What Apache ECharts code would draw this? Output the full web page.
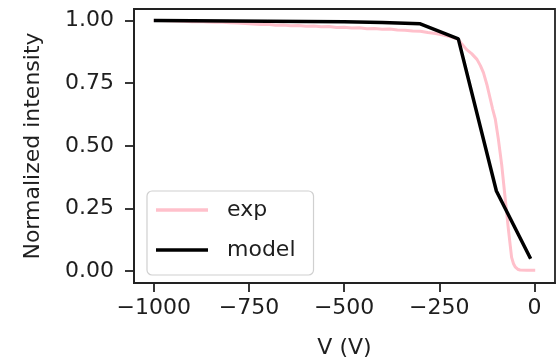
<!DOCTYPE html>
<html><head><meta charset="utf-8">
<script src="https://cdn.jsdelivr.net/npm/echarts@6/dist/echarts.min.js"></script>
<style>html,body{margin:0;padding:0;background:#fff}#c{width:559px;height:364px}</style>
</head><body><div id="c"></div>
<script>
const expV = [-1000,-980,-960,-940,-920,-900,-880,-860,-840,-820,-800,-780,-760,-740,-720,-700,-680,-660,-640,-620,-600,-580,-560,-540,-520,-500,-480,-460,-440,-420,-400,-380,-360,-340,-320,-300,-280,-260,-240,-220,-200,-190,-178,-165,-151,-142,-134,-125,-116,-110,-103,-95,-86,-77,-68,-60,-55,-50,-44,-38,-20,0,2];
const expI = [1.000,1.000,0.999,0.998,0.997,0.995,0.996,0.994,0.993,0.993,0.991,0.990,0.988,0.986,0.984,0.985,0.981,0.982,0.979,0.980,0.977,0.978,0.975,0.976,0.972,0.973,0.970,0.971,0.967,0.968,0.965,0.966,0.962,0.961,0.958,0.957,0.952,0.948,0.942,0.935,0.925,0.905,0.884,0.868,0.845,0.820,0.792,0.745,0.687,0.648,0.608,0.529,0.424,0.292,0.161,0.055,0.030,0.016,0.008,0.005,0.004,0.004,0.004];
const modelV = [-1000,-900,-800,-700,-600,-500,-400,-300,-200,-100,-10];
const modelI = [1.000,0.999,0.998,0.997,0.996,0.995,0.992,0.987,0.927,0.320,0.050];
const xTicks = [-1000,-750,-500,-250,0];
const yTicks = [0,0.25,0.5,0.75,1.0];

const font = 'DejaVu Sans';
const txt = '#1e1e1e';
const chart = echarts.init(document.getElementById('c'), null, {renderer:'canvas'});
chart.setOption({
  animation:false,
  backgroundColor:'#fff',
  grid:{left:134, top:9, right:4, bottom:78, show:true, borderColor:'#222', borderWidth:1.8, backgroundColor:'transparent'},
  legend:{
    left:147, top:191, orient:'vertical',
    data:[{name:'exp', icon:'rect', itemStyle:{color:'#ffc0cb'}},{name:'model', icon:'rect', itemStyle:{color:'#000'}}],
    itemWidth:52, itemHeight:3.5, itemGap:18,
    textStyle:{fontFamily:font, fontSize:22, color:txt, padding:[0,0,0,14]},
    backgroundColor:'rgba(255,255,255,0.8)', borderColor:'#d0d0d0', borderWidth:1.2, borderRadius:5,
    padding:[8,18,14,9]
  },
  xAxis:{
    type:'value', min:-1052, max:54,
    name:'V (V)', nameLocation:'middle', nameGap:54,
    nameTextStyle:{fontFamily:font, fontSize:22, color:txt},
    axisLine:{show:true, onZero:false, lineStyle:{color:'#222', width:1.8}},
    axisTick:{show:true, length:9, lineStyle:{color:'#222', width:1.8}, customValues:xTicks},
    axisLabel:{fontFamily:font, fontSize:22, color:txt, margin:14, customValues:xTicks,
      formatter:v=> v<0 ? '\u2212'+Math.abs(v) : String(v)},
    splitLine:{show:false}
  },
  yAxis:{
    type:'value', min:-0.047, max:1.046,
    name:'Normalized intensity', nameLocation:'middle', nameGap:90, nameRotate:90,
    nameTextStyle:{fontFamily:font, fontSize:22, color:txt},
    axisLine:{show:true, onZero:false, lineStyle:{color:'#222', width:1.8}},
    axisTick:{show:true, length:9, lineStyle:{color:'#222', width:1.8}, customValues:yTicks},
    axisLabel:{fontFamily:font, fontSize:22, color:txt, margin:20, customValues:yTicks,
      formatter:v=>v.toFixed(2)},
    splitLine:{show:false}
  },
  series:[
    {name:'exp', type:'line', data:expV.map((v,i)=>[v,expI[i]]), showSymbol:false, symbol:'none',
     lineStyle:{color:'#ffc0cb', width:3}, itemStyle:{color:'#ffc0cb'}, z:2},
    {name:'model', type:'line', data:modelV.map((v,i)=>[v,modelI[i]]), showSymbol:false, symbol:'none',
     lineStyle:{color:'#000', width:3.5}, itemStyle:{color:'#000'}, z:3}
  ]
});
</script></body></html>
